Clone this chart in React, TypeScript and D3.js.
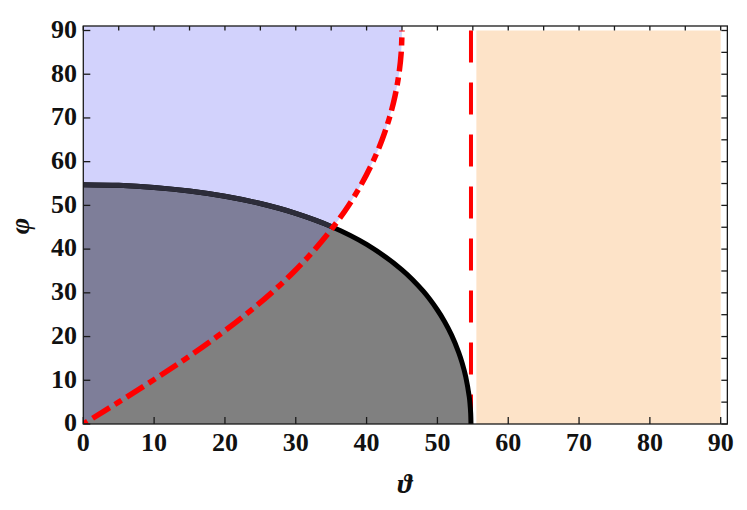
import React from 'react';
import * as d3 from 'd3';

// Axis ticks
const xTickValues = [0, 10, 20, 30, 40, 50, 60, 70, 80, 90];
const yTickValues = [0, 10, 20, 30, 40, 50, 60, 70, 80, 90];
const minorTickValues = [0, 5, 10, 15, 20, 25, 30, 35, 40, 45, 50, 55, 60, 65, 70, 75, 80, 85, 90];

// Black boundary curve (theta, phi)
const blackTheta = [0, 5, 10, 15, 20, 25, 30, 35, 40, 45, 48, 50, 51, 52, 53, 53.5, 54, 54.5, 54.6, 54.7, 54.74];
const blackPhi = [54.74, 54.58, 54.11, 53.29, 52.09, 50.43, 48.19, 45.19, 41.09, 35.26, 30.37, 26.08, 23.45, 20.32, 16.4, 13.93, 10.82, 6.17, 4.69, 2.4, 0];

// Red dash-dot curve (theta, phi)
const redPhi = [0, 5, 10, 15, 20, 25, 30, 35, 40, 45, 50, 55, 60, 65, 70, 75, 80, 85, 90];
const redTheta = [0, 4.98, 9.85, 14.51, 18.88, 22.91, 26.57, 29.84, 32.73, 35.26, 37.46, 39.32, 40.89, 42.19, 43.22, 44.01, 44.56, 44.89, 45];

// Vertical dashed line and orange region
const dashedTheta = 54.74;
const orangeTheta = [55.5, 90];
const orangePhi = [0, 90];

const xMax = 90.94;
const yMax = 91.03;

export default function App() {
  const W = 747, H = 510;
  const x = d3.scaleLinear().domain([0, 90]).range([83.3, 720.7]);
  const y = d3.scaleLinear().domain([0, 90]).range([424, 30.5]);

  const blackPts: [number, number][] = blackTheta.map((t, i) => [t, blackPhi[i]]);
  const redPts: [number, number][] = redPhi.map((p, i) => [redTheta[i], p]);

  const line = d3.line<[number, number]>()
    .x(d => x(d[0])).y(d => y(d[1]))
    .curve(d3.curveCatmullRom.alpha(0.5));

  const blackPath = line(blackPts) as string;
  const redPath = line(redPts) as string;

  const grayPath = blackPath + `L${x(0)},${y(0)}Z`;
  const bluePath = line(redPts) + `L${x(45)},${y(yMax)}L${x(0)},${y(yMax)}Z`;

  const font = '"Liberation Serif", "Times New Roman", serif';
  const x0 = x(0), x1 = x(xMax), y0 = y(0), y1 = y(yMax);

  return (
    <svg width={W} height={H} style={{ position: 'absolute', left: 0, top: 0, background: '#fff' }}>
      <defs>
        <clipPath id="blueClip">
          <path d={bluePath} />
        </clipPath>
        <clipPath id="frameClip">
          <rect x={x0} y={y1} width={x1 - x0} height={y0 - y1} />
        </clipPath>
      </defs>

      {/* orange region */}
      <rect x={x(orangeTheta[0])} y={y(orangePhi[1])}
        width={x(orangeTheta[1]) - x(orangeTheta[0])}
        height={y(orangePhi[0]) - y(orangePhi[1])} fill="#fde3c8" />

      {/* blue region */}
      <path d={bluePath} fill="#d2d2fc" />

      {/* gray region */}
      <path d={grayPath} fill="#808080" />
      <path d={grayPath} fill="#7e7e99" clipPath="url(#blueClip)" />

      {/* dashed vertical red line */}
      <line x1={x(dashedTheta)} x2={x(dashedTheta)} y1={y(90)} y2={y(0)}
        stroke="#ff0000" strokeWidth={4} strokeDasharray="32 20" />

      {/* black curve */}
      <path d={blackPath} fill="none" stroke="#000" strokeWidth={5} />
      <path d={blackPath} fill="none" stroke="#2d2d3a" strokeWidth={5} clipPath="url(#blueClip)" />

      {/* red dash-dot curve */}
      <path d={redPath} fill="none" stroke="#ff0000" strokeWidth={5.5}
        strokeDasharray="20 6 8 6" strokeDashoffset={29} clipPath="url(#frameClip)" />

      {/* frame */}
      <rect x={x0} y={y1} width={x1 - x0} height={y0 - y1} fill="none" stroke="#1a1a1a" strokeWidth={1.3} />

      {/* ticks */}
      {xTickValues.map(v => (
        <line key={'bx' + v} x1={x(v)} x2={x(v)} y1={y0} y2={y0 - 7} stroke="#1a1a1a" strokeWidth={1.3} />
      ))}
      {yTickValues.map(v => (
        <line key={'ly' + v} x1={x0} x2={x0 + 7} y1={y(v)} y2={y(v)} stroke="#1a1a1a" strokeWidth={1.3} />
      ))}
      {minorTickValues.map(v => (
        <line key={'tx' + v} x1={x(v)} x2={x(v)} y1={y1} y2={y1 + 4.5} stroke="#1a1a1a" strokeWidth={1.3} />
      ))}
      {minorTickValues.map(v => (
        <line key={'ry' + v} x1={x1} x2={x1 - 6} y1={y(v)} y2={y(v)} stroke="#1a1a1a" strokeWidth={1.3} />
      ))}

      {/* tick labels */}
      {xTickValues.map(v => (
        <text key={'xl' + v} x={x(v)} y={450.5} textAnchor="middle"
          fontFamily={font} fontWeight="bold" fontSize={26} fill="#111">{v}</text>
      ))}
      {yTickValues.map(v => (
        <text key={'yl' + v} x={77} y={y(v) + 7.3} textAnchor="end"
          fontFamily={font} fontWeight="bold" fontSize={26} fill="#111">{v}</text>
      ))}

      {/* axis labels */}
      <text x={405} y={493} textAnchor="middle" fontFamily={font} fontStyle="italic" fontWeight="bold"
        fontSize={28} fill="#111">ϑ</text>
      <text transform={`translate(29,226) rotate(-90)`} textAnchor="middle" fontFamily={font}
        fontStyle="italic" fontWeight="bold" fontSize={28} fill="#111">φ</text>
    </svg>
  );
}
